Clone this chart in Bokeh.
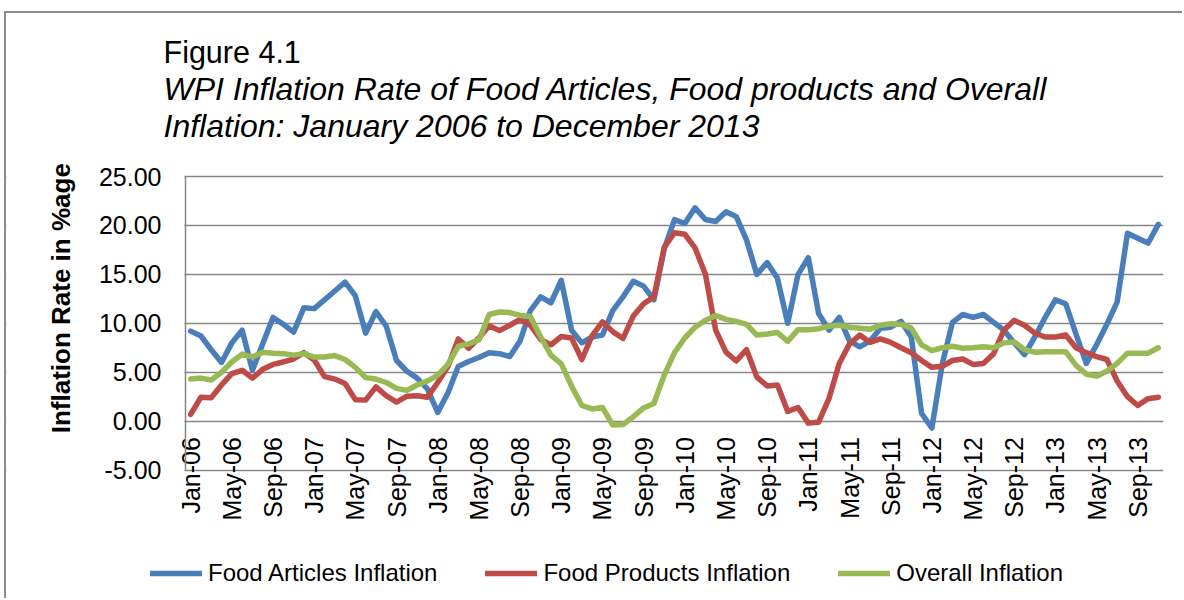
import math
from bokeh.plotting import figure
from bokeh.models import (Range1d, FixedTicker, NumeralTickFormatter, Label,
                          Legend, LegendItem, BoxAnnotation)
from bokeh.embed import file_html
from bokeh.resources import INLINE

# Monthly WPI inflation (%), Jan-2006 .. Nov-2013
food_articles = [
    9.2, 8.7, 7.3, 6.0, 8.0, 9.3, 5.2, 7.9, 10.6, 9.9, 9.1, 11.6,
    11.5, 12.4, 13.3, 14.2, 12.8, 9.0, 11.2, 9.7, 6.2, 5.1, 4.4, 3.3,
    0.9, 2.9, 5.6, 6.1, 6.5, 7.0, 6.9, 6.6, 8.2, 11.3, 12.7, 12.1,
    14.4, 9.3, 8.0, 8.6, 8.8, 11.3, 12.7, 14.3, 13.8, 12.4, 17.6, 20.6,
    20.2, 21.8, 20.6, 20.4, 21.4, 20.9, 18.5, 15.0, 16.2, 14.6, 10.0, 15.0,
    16.7, 11.0, 9.3, 10.6, 8.2, 7.6, 8.2, 9.5, 9.6, 10.2, 8.6, 0.8,
    -0.7, 5.8, 10.1, 10.9, 10.6, 10.9, 10.1, 9.3, 8.0, 6.8, 8.6, 10.6,
    12.4, 12.0, 8.9, 5.9, 7.8, 9.9, 12.2, 19.2, 18.7, 18.2, 20.1,
]
food_products = [
    0.7, 2.45, 2.4, 3.7, 4.85, 5.2, 4.4, 5.3, 5.8, 6.05, 6.35, 7.0,
    6.25, 4.55, 4.3, 3.85, 2.2, 2.15, 3.5, 2.6, 1.95, 2.55, 2.6, 2.45,
    3.95, 5.6, 8.4, 7.45, 8.5, 9.75, 9.25, 9.8, 10.4, 9.8, 8.35, 7.8,
    8.65, 8.5, 6.3, 8.75, 10.15, 9.15, 8.45, 10.75, 12.0, 12.7, 17.75, 19.25,
    19.1, 17.7, 15.0, 9.3, 7.05, 6.15, 7.3, 4.5, 3.6, 3.7, 1.0, 1.4,
    -0.2, -0.1, 2.3, 5.9, 7.9, 8.8, 8.05, 8.4, 8.05, 7.5, 7.0, 6.2,
    5.5, 5.6, 6.2, 6.35, 5.8, 5.9, 6.9, 9.3, 10.3, 9.8, 9.0, 8.6,
    8.6, 8.8, 7.5, 7.0, 6.6, 6.3, 4.1, 2.5, 1.6, 2.3, 2.45,
]
overall = [
    4.3, 4.4, 4.2, 5.0, 6.05, 6.85, 6.55, 7.05, 6.95, 6.9, 6.75, 6.9,
    6.55, 6.55, 6.7, 6.3, 5.5, 4.45, 4.3, 3.95, 3.35, 3.15, 3.7, 4.1,
    4.7, 5.8, 7.65, 7.9, 8.3, 10.9, 11.15, 11.1, 10.8, 10.7, 8.6, 6.75,
    5.85, 3.6, 1.6, 1.25, 1.4, -0.4, -0.35, 0.45, 1.35, 1.8, 4.7, 7.0,
    8.5, 9.6, 10.3, 10.8, 10.4, 10.2, 9.9, 8.8, 8.9, 9.05, 8.15, 9.35,
    9.35, 9.45, 9.7, 9.8, 9.6, 9.5, 9.4, 9.8, 9.95, 9.9, 9.5, 7.8,
    7.2, 7.5, 7.65, 7.45, 7.5, 7.6, 7.5, 8.0, 8.1, 7.3, 7.05, 7.1,
    7.1, 7.1, 5.7, 4.8, 4.6, 5.1, 5.9, 6.95, 6.95, 6.95, 7.5,
]
tick_labels = [
    "Jan-06", "May-06", "Sep-06", "Jan-07", "May-07", "Sep-07",
    "Jan-08", "May-08", "Sep-08", "Jan-09", "May-09", "Sep-09",
    "Jan-10", "May-10", "Sep-10", "Jan-11", "May-11", "Sep-11",
    "Jan-12", "May-12", "Sep-12", "Jan-13", "May-13", "Sep-13",
]
y_ticks = [-5, 0, 5, 10, 15, 20, 25]
series_names = ["Food Articles Inflation", "Food Products Inflation", "Overall Inflation"]
series_colors = ["#4A7EBB", "#BE4B48", "#98B954"]
title_lines = [
    ("Figure 4.1", "normal", "30.5px"),
    ("WPI Inflation Rate of Food Articles, Food products and Overall", "italic", "32px"),
    ("Inflation: January 2006 to December 2013", "italic", "32px"),
]

n = len(food_articles)
xs = [i + 0.5 for i in range(n)]
tick_pos = [4 * i + 0.5 for i in range(len(tick_labels))]

FONT = "Liberation Sans"
GRID = "#868686"

# layout (canvas pixels); the frame covers the whole canvas except a right margin
W, H = 1178, 587
FRAME_R = 21
PLOT_X0 = 179                       # px from canvas left to the value axis
PLOT_TOP, PLOT_BOT = 163, 456.6     # canvas y of the 25 and -5 gridlines
px_per_cat = (W - FRAME_R - PLOT_X0) / n
px_per_unit = (PLOT_BOT - PLOT_TOP) / (y_ticks[-1] - y_ticks[0])
x_start = -PLOT_X0 / px_per_cat
y_end = y_ticks[-1] + PLOT_TOP / px_per_unit
y_start = y_ticks[0] - (H - PLOT_BOT) / px_per_unit

p = figure(width=W, height=H, output_backend="svg", toolbar_location=None,
           title=None,
           x_range=Range1d(x_start, n), y_range=Range1d(y_start, y_end),
           min_border_left=0, min_border_right=FRAME_R,
           min_border_top=0, min_border_bottom=0)
p.styles = {"margin-left": "4px", "margin-top": "11px",
            "border-top": "2px solid #8c8c8c", "border-left": "2px solid #8c8c8c"}
p.outline_line_color = None
p.background_fill_color = "white"
p.border_fill_color = "white"

# grid (hidden left of the value axis)
p.xgrid.grid_line_color = None
p.ygrid.ticker = FixedTicker(ticks=y_ticks)
p.ygrid.grid_line_color = GRID
p.ygrid.grid_line_width = 1.5
p.add_layout(BoxAnnotation(right=-0.1, top=y_ticks[-1] + 1, bottom=y_ticks[0] - 1,
                           fill_color="white", fill_alpha=1, line_color=None,
                           level="underlay"))

# y axis, pinned at x = 0
ya = p.yaxis[0]
ya.fixed_location = 0
ya.bounds = (y_ticks[0], y_ticks[-1])
ya.ticker = FixedTicker(ticks=y_ticks)
ya.formatter = NumeralTickFormatter(format="0.00")
ya.axis_line_color = GRID
ya.axis_line_width = 1.5
ya.major_tick_in = 0
ya.major_tick_out = 0
ya.minor_tick_line_color = None
ya.major_label_standoff = 24
ya.major_label_text_font = FONT
ya.major_label_text_font_size = "25px"
ya.major_label_text_color = "black"
ya.axis_label = "\u00a0" * 7 + "Inflation Rate in %age"
ya.axis_label_text_font = FONT
ya.axis_label_text_font_size = "26px"
ya.axis_label_text_font_style = "bold"
ya.axis_label_text_color = "black"
ya.axis_label_standoff = 20

# x axis (category labels), pinned at y = 0
xa = p.xaxis[0]
xa.fixed_location = 0
xa.ticker = FixedTicker(ticks=tick_pos)
xa.major_label_overrides = {pos: lab for pos, lab in zip(tick_pos, tick_labels)}
xa.major_label_orientation = math.pi / 2
xa.axis_line_color = None
xa.major_tick_in = 0
xa.major_tick_out = 0
xa.minor_tick_line_color = None
xa.major_label_standoff = 16
xa.major_label_text_font = FONT
xa.major_label_text_font_size = "25px"
xa.major_label_text_color = "black"

renderers = []
for vals, col in zip([food_articles, food_products, overall], series_colors):
    r = p.line(xs, vals, line_color=col, line_width=5.5, line_join="round", line_cap="round")
    renderers.append(r)

legend = Legend(items=[LegendItem(label=nm, renderers=[r]) for nm, r in zip(series_names, renderers)],
                orientation="horizontal", location=(144, 13), padding=0, margin=0,
                spacing=48, glyph_width=52, glyph_height=24, label_standoff=6,
                label_text_font=FONT, label_text_font_size="24px", label_text_color="black",
                border_line_color=None, background_fill_alpha=0)
p.add_layout(legend, "center")

# title block (screen units: from frame left / frame bottom)
for (txt, style, size), yy in zip(title_lines, [549, 512, 475]):
    p.add_layout(Label(x=157, y=yy, x_units="screen", y_units="screen", text=txt,
                       text_font=FONT, text_font_size=size, text_font_style=style,
                       text_baseline="alphabetic", text_color="black"))

open("out.html", "w").write(file_html(p, INLINE))
